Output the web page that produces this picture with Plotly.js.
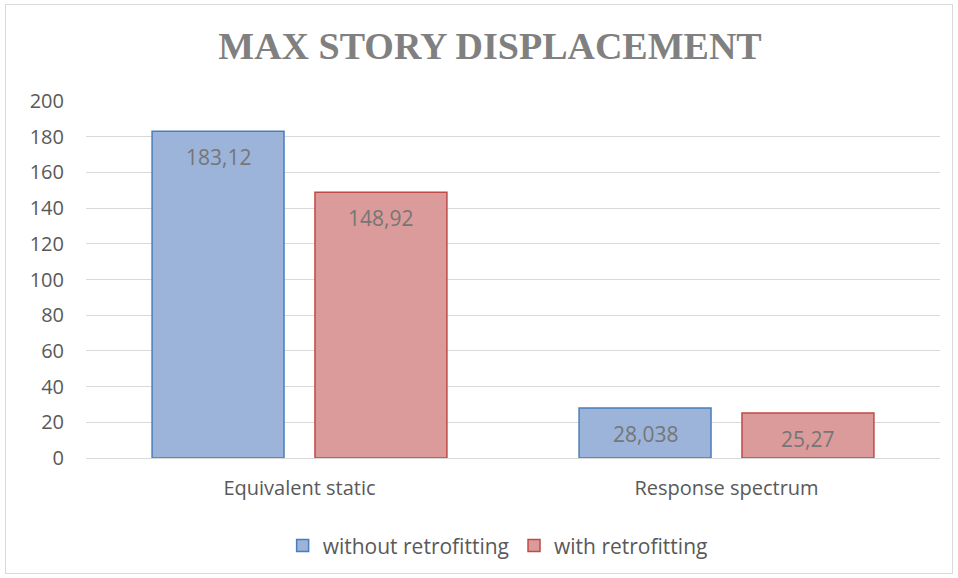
<!DOCTYPE html>
<html>
<head>
<meta charset="utf-8">
<script src="https://cdn.plot.ly/plotly-3.0.1.min.js"></script>
<style>
html,body{margin:0;padding:0;background:#fff;}
#wrap{position:relative;width:958px;height:578px;}
#frame{position:absolute;left:5px;top:4px;width:948px;height:570px;border:1px solid #d9d9d9;box-sizing:border-box;pointer-events:none;}
#chart{position:absolute;left:0;top:0;width:958px;height:578px;}
</style>
</head>
<body>
<div id="wrap"><div id="chart"></div><div id="frame"></div></div>
<script>
const categories = ["Equivalent static", "Response spectrum"];
const withoutRetrofitting = [183.12, 28.038];
const withRetrofitting = [148.92, 25.27];
const seriesNames = ["without retrofitting", "with retrofitting"];
const yTicks = [0, 20, 40, 60, 80, 100, 120, 140, 160, 180, 200];

const fmt = v => String(v).replace('.', ',');
const FONT = "'Open Sans', 'Noto Sans', sans-serif";
const labelFont = {family: FONT, size: 21, color: "#767676"};
const axisFont = {family: FONT, size: 20, color: "#595959"};
const legendFont = {family: FONT, size: 21, color: "#595959"};

const BARGAP = 0.237, GROUPGAP = 0.19;
const series = [withoutRetrofitting, withRetrofitting];
const slot = (1 - BARGAP) / series.length;

const traces = [
  {type: 'bar', name: seriesNames[0], x: categories, y: withoutRetrofitting,
   marker: {color: '#9cb3da', line: {color: '#4a7ebb', width: 1.5}}, hoverinfo: 'none'},
  {type: 'bar', name: seriesNames[1], x: categories, y: withRetrofitting,
   marker: {color: '#db9b9a', line: {color: '#be4b48', width: 1.5}}, hoverinfo: 'none'}
];

const annotations = [];
series.forEach((vals, s) => {
  vals.forEach((v, i) => {
    annotations.push({
      x: i - (1 - BARGAP) / 2 + slot * (s + 0.5), y: v, xref: 'x', yref: 'y',
      text: fmt(v), showarrow: false, yanchor: 'middle', xanchor: 'center', yshift: -26,
      font: labelFont
    });
  });
});

const layout = {
  width: 958, height: 578,
  margin: {l: 86, r: 18, t: 101, b: 120},
  paper_bgcolor: '#fff', plot_bgcolor: '#fff',
  title: {text: 'MAX STORY DISPLACEMENT', x: 0.5115, xanchor: 'center', y: 0.921, yanchor: 'middle',
          font: {family: "'Liberation Serif', 'Times New Roman', serif", size: 38, color: '#808080', weight: 'bold'}},
  barmode: 'group', bargap: BARGAP, bargroupgap: GROUPGAP,
  xaxis: {type: 'category', tickfont: axisFont,
          showgrid: false, showline: false, ticks: '', ticklabelstandoff: 16},
  yaxis: {range: [0, 200], tickvals: yTicks, ticktext: yTicks.map(String),
          tickfont: axisFont,
          gridcolor: '#d9d9d9', gridwidth: 1, zeroline: true, zerolinecolor: '#d9d9d9', zerolinewidth: 1,
          showline: false, ticks: 'outside', ticklen: 17, tickcolor: 'rgba(0,0,0,0)'},
  annotations: annotations,
  showlegend: true,
  legend: {orientation: 'h', x: 0.482, xanchor: 'center', y: -0.246, yanchor: 'middle',
           font: legendFont, itemwidth: 30, traceorder: 'normal', tracegroupgap: 0}
};

Plotly.newPlot('chart', traces, layout, {displayModeBar: false, staticPlot: true});
</script>
</body>
</html>
